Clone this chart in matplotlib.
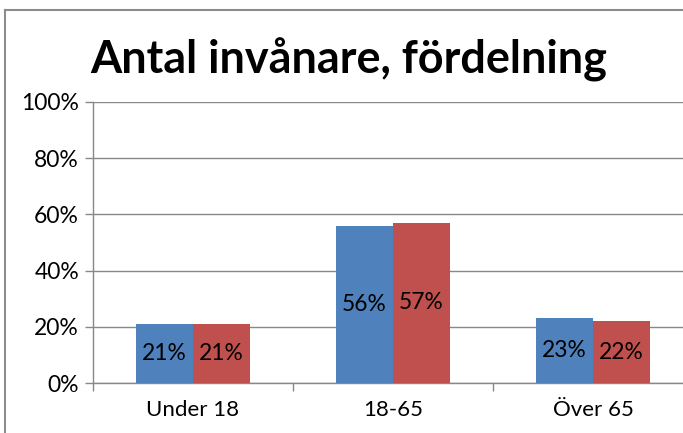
import numpy as np
import matplotlib.pyplot as plt
from matplotlib.ticker import FuncFormatter, MultipleLocator

categories = ['Under 18', '18-65', 'Över 65']
serie_1 = [21, 56, 23]
serie_2 = [21, 57, 22]
title = 'Antal invånare, fördelning'

plt.rcParams['font.family'] = ['Lato', 'DejaVu Sans']

W, H = 683, 433
fig = plt.figure(figsize=(W / 100, H / 100), dpi=100)

# chart frame: top and left edges only (the rest lies outside the picture)
fx, fy = 4.5 / W, 1 - 9.5 / H
fig.add_artist(plt.Line2D([fx, fx], [0, fy], color='#8c8c8c', linewidth=1.5,
                          transform=fig.transFigure))
fig.add_artist(plt.Line2D([fx, 1 - 1 / W], [fy, fy], color='#8c8c8c', linewidth=1.5,
                          transform=fig.transFigure))

# axes: x 93..693 px, y 102..383 px
ax = fig.add_axes([93 / W, (H - 383) / H, 600 / W, (383 - 102) / H])
ax.patch.set_visible(False)

x = np.arange(len(categories))
w = 0.285
b1 = ax.bar(x - w / 2, serie_1, w, color='#4f81bd', zorder=3)
b2 = ax.bar(x + w / 2, serie_2, w, color='#c0504d', zorder=3)

for bars, vals in ((b1, serie_1), (b2, serie_2)):
    for r, v in zip(bars, vals):
        ax.text(r.get_x() + r.get_width() / 2, v / 2, f'{v}%', ha='center', va='center',
                fontsize=16.4, color='black', zorder=4)

ax.set_xlim(-0.5, len(categories) - 0.5)
ax.set_ylim(0, 100)
ax.yaxis.set_major_locator(MultipleLocator(20))
ax.yaxis.set_major_formatter(FuncFormatter(lambda v, p: f'{v:.0f}%'))
ax.grid(axis='y', color='#888888', linewidth=1, zorder=0)

ax.set_xticks(x)
ax.set_xticklabels(categories)
ax.set_xticks(np.arange(-0.5, len(categories), 1), minor=True)
ax.tick_params(axis='x', which='major', length=0, pad=12, labelsize=16)
ax.tick_params(axis='x', which='minor', length=6, color='#888888', width=1)
ax.tick_params(axis='y', length=6, color='#888888', width=1, labelsize=16.5, pad=4)

for s in ('top', 'right'):
    ax.spines[s].set_visible(False)
for s in ('left', 'bottom'):
    ax.spines[s].set_color('#888888')
    ax.spines[s].set_linewidth(1)

fig.text(90 / W, 1 - 60 / H, title, fontsize=32.4, fontweight='bold', va='center', ha='left')

fig.savefig('out.png', dpi=100)
